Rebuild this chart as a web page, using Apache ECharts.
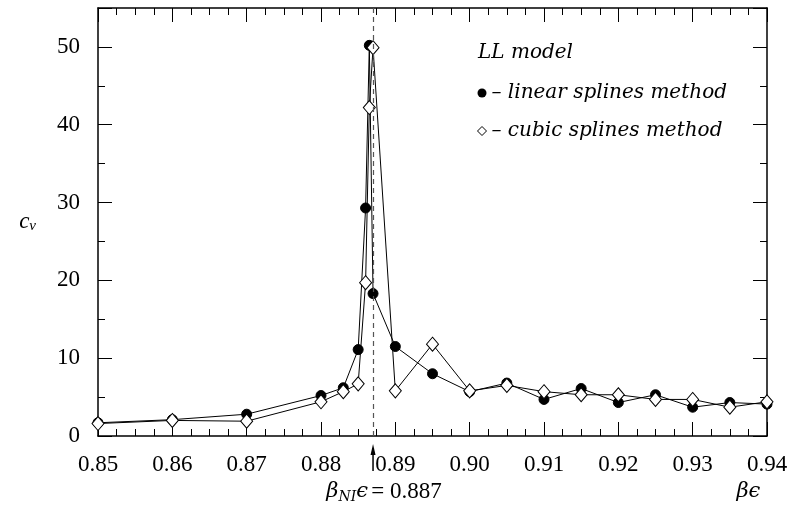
<!DOCTYPE html>
<html><head><meta charset="utf-8">
<script src="https://cdn.jsdelivr.net/npm/echarts@6/dist/echarts.min.js"></script>
<style>html,body{margin:0;padding:0;background:#fff}#c{width:803px;height:508px}</style>
</head><body><div id="c"></div>
<script>
const betaEps = [0.85,0.86,0.87,0.88,0.883,0.885,0.886,0.8865,0.887,0.89,0.895,0.90,0.905,0.91,0.915,0.92,0.925,0.93,0.935,0.94];
const cvLinear = [1.7,2.1,2.8,5.2,6.2,11.1,29.3,50.2,18.3,11.5,8.0,5.7,6.8,4.7,6.1,4.3,5.3,3.7,4.3,4.1];
const cvCubic = [1.6,2.0,1.9,4.4,5.7,6.7,19.7,42.2,49.9,5.8,11.8,5.8,6.5,5.7,5.3,5.3,4.7,4.7,3.7,4.4];
const betaNI = 0.887;
const seriesNames = ['linear splines method','cubic splines method'];
const xTickLabels = ['0.85','0.86','0.87','0.88','0.89','0.90','0.91','0.92','0.93','0.94'];
const yTickLabels = ['0','10','20','30','40','50'];

const FONT = '"Liberation Serif", "DejaVu Serif", serif';
const IFONT = '"DejaVu Serif", serif';
const chart = echarts.init(document.getElementById('c'), null, {renderer:'canvas'});
const pairs = (xs, ys) => xs.map((x,i)=>[x, ys[i]]);
const axLine = {show:true, onZero:false, lineStyle:{color:'#000', width:1.5}};
const noLine = {show:false, onZero:false};
const xTickFmt = v => { const i = Math.round((v-0.85)/0.01); return (Math.abs(v-0.85-i*0.01) < 1e-6 && xTickLabels[i]) ? xTickLabels[i] : ''; };
const yTickFmt = v => { const i = Math.round(v/10); return (Math.abs(v - i*10) < 1e-6 && yTickLabels[i] !== undefined) ? yTickLabels[i] : ''; };
const majTick = {show:true, inside:true, length:14, lineStyle:{color:'#000', width:1}};
const minTick = {show:true, inside:true, length:7, lineStyle:{color:'#000', width:1}};
const xBase = {type:'value', min:0.85, max:0.94, splitLine:{show:false}, minorTick:{show:false}};
const yBase = {type:'value', min:0, max:55, splitLine:{show:false}, minorTick:{show:false}};
const option = {
  animation:false,
  backgroundColor:'#fff',
  grid:{left:98, right:36, top:8, bottom:72, containLabel:false},
  title:{text:'LL model', left:473, top:38, textStyle:{fontFamily:IFONT, fontStyle:'italic', fontWeight:'normal', fontSize:20, color:'#000'}},
  legend:{
    orient:'vertical', left:472, top:78, itemGap:18, itemWidth:9, itemHeight:9,
    textStyle:{fontFamily:IFONT, fontStyle:'italic', fontSize:20, color:'#000'},
    formatter: n => '\u2013 ' + n,
    data:[
      {name:seriesNames[0], icon:'circle', itemStyle:{color:'#000', borderColor:'#000'}},
      {name:seriesNames[1], icon:'diamond', itemStyle:{color:'#fff', borderColor:'#000', borderWidth:1}}
    ]
  },
  xAxis:[
    Object.assign({}, xBase, {interval:0.01, position:'bottom', axisLine:axLine, axisTick:majTick,
      axisLabel:{margin:17, fontFamily:FONT, fontSize:23, color:'#000', formatter:xTickFmt}}),
    Object.assign({}, xBase, {interval:0.01, position:'top', axisLine:axLine, axisTick:majTick, axisLabel:{show:false}}),
    Object.assign({}, xBase, {interval:0.0025, position:'bottom', axisLine:noLine, axisTick:minTick, axisLabel:{show:false}}),
    Object.assign({}, xBase, {interval:0.0025, position:'top', axisLine:noLine, axisTick:minTick, axisLabel:{show:false}})
  ],
  yAxis:[
    Object.assign({}, yBase, {interval:10, position:'left', axisLine:axLine, axisTick:majTick,
      name:'{c|c}{v|v}', nameLocation:'middle', nameRotate:0, nameGap:62,
      nameTextStyle:{rich:{c:{fontFamily:FONT, fontStyle:'italic', fontSize:23, color:'#000'}, v:{fontFamily:FONT, fontStyle:'italic', fontSize:15, color:'#000', verticalAlign:'bottom', padding:[8,0,0,0]}}},
      axisLabel:{margin:18, fontFamily:FONT, fontSize:23, color:'#000', formatter:yTickFmt}}),
    Object.assign({}, yBase, {interval:10, position:'right', axisLine:axLine, axisTick:majTick, axisLabel:{show:false}}),
    Object.assign({}, yBase, {interval:5, position:'left', axisLine:noLine, axisTick:minTick, axisLabel:{show:false}}),
    Object.assign({}, yBase, {interval:5, position:'right', axisLine:noLine, axisTick:minTick, axisLabel:{show:false}})
  ],
  series:[
    {name:seriesNames[0], type:'line', xAxisIndex:0, yAxisIndex:0, data:pairs(betaEps, cvLinear), symbol:'circle', symbolSize:10,
      itemStyle:{color:'#000', borderColor:'#000'}, lineStyle:{color:'#000', width:1}, z:3,
      markLine:{silent:true, precision:4, symbol:'none', label:{show:false}, lineStyle:{color:'#555', type:[5,4], width:1.2}, data:[{xAxis:betaNI}]}},
    {name:seriesNames[1], type:'line', xAxisIndex:0, yAxisIndex:0, data:pairs(betaEps, cvCubic), symbol:'diamond', symbolSize:[12,14],
      itemStyle:{color:'#fff', borderColor:'#000', borderWidth:1}, lineStyle:{color:'#000', width:1}, z:4}
  ]
};
chart.setOption(option);
const ax = chart.convertToPixel({xAxisIndex:0}, betaNI);
const ay = chart.convertToPixel({yAxisIndex:0}, 0);
chart.setOption({graphic:[
  {type:'line', shape:{x1:ax, y1:ay+35, x2:ax, y2:ay+12}, style:{stroke:'#000', lineWidth:1.5}},
  {type:'polygon', shape:{points:[[ax-2.5, ay+19],[ax+2.5, ay+19],[ax, ay+8]]}, style:{fill:'#000'}},
  {type:'text', x:ax+11, y:ay+56, style:{
    text:'{b|\u03B2}{s|NI}{b|\u03F5} {n|= 0.887}', align:'center', verticalAlign:'middle',
    rich:{b:{fontFamily:IFONT, fontStyle:'italic', fontSize:21, fill:'#000'}, s:{fontFamily:IFONT, fontStyle:'italic', fontSize:14, fill:'#000', verticalAlign:'bottom', padding:[10,0,0,0]}, n:{fontFamily:FONT, fontSize:23, fill:'#000'}}}},
  {type:'text', x:chart.convertToPixel({xAxisIndex:0}, 0.9375), y:ay+56, style:{
    text:'\u03B2\u03F5', align:'center', verticalAlign:'middle', font:'italic 21px ' + IFONT, fill:'#000'}}
]});
</script></body></html>
